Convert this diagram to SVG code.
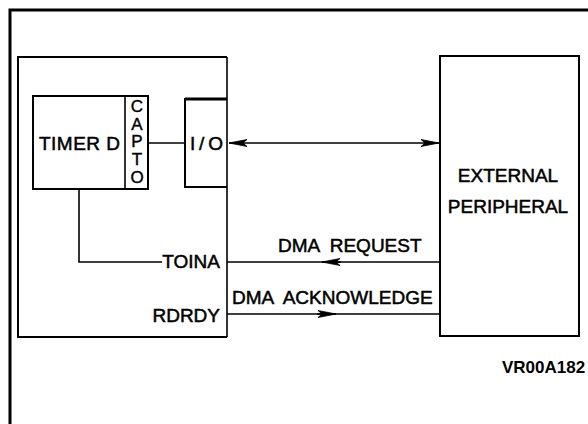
<svg xmlns="http://www.w3.org/2000/svg" width="588" height="424" viewBox="0 0 588 424">
<defs>
<style>
.box{fill:none;stroke:#000;stroke-width:2}
.ln{fill:none;stroke:#000;stroke-width:1.6}
.t{font-family:"Liberation Sans",Arial,sans-serif;font-size:19px;fill:#000;stroke:#000;stroke-width:0.5;white-space:pre}
.c{font-family:"Liberation Sans",Arial,sans-serif;font-size:17px;fill:#000;stroke:#000;stroke-width:0.4;writing-mode:vertical-rl;text-orientation:upright;letter-spacing:-1.3px}
.id{font-family:"Liberation Sans",Arial,sans-serif;font-size:17px;font-weight:bold;fill:#000}
</style>
<marker id="ah" viewBox="0 0 18 8" refX="18" refY="4" markerWidth="18" markerHeight="8" markerUnits="userSpaceOnUse" orient="auto-start-reverse">
<path d="M0,0.5 L18,4 L0,7.5 L4,4 Z" fill="#000" stroke="#000" stroke-width="0.8"/>
</marker>
</defs>
<rect width="588" height="424" fill="#fff"/>
<g id="frame"><path d="M10,424 V10 H588" fill="none" stroke="#000" stroke-width="3"/></g>
<g id="chip">
<path d="M227,57 H18 V337 H227" class="box" stroke-width="2.5"/>
<line x1="227" y1="57" x2="227" y2="337" class="ln"/>
</g>
<g id="timer">
<rect x="33" y="96" width="115" height="93" class="box"/>
<line x1="125" y1="96" x2="125" y2="189" class="ln"/>
<text x="39" y="150" class="t" textLength="81" lengthAdjust="spacing">TIMER D</text>
<text x="137" y="97" class="c">CAPTO</text>
</g>
<g id="io">
<path d="M227,99 H185 V187 H227" class="box"/>
<line x1="185" y1="99" x2="227" y2="99" stroke="#000" stroke-width="3"/>
<text x="190" y="150" class="t" textLength="33" lengthAdjust="spacing">I/O</text>
</g>
<g id="peripheral">
<rect x="440" y="56" width="139" height="280" class="box"/>
<text x="508" y="182" class="t" text-anchor="middle">EXTERNAL</text>
<text x="508" y="213" class="t" text-anchor="middle">PERIPHERAL</text>
</g>
<g id="connectors">
<line x1="148" y1="143" x2="185" y2="143" class="ln"/>
<line x1="229" y1="143" x2="439" y2="143" class="ln" marker-start="url(#ah)" marker-end="url(#ah)"/>
<polyline points="79,189 79,262 162,262" class="ln"/>
<line x1="227" y1="262" x2="440" y2="262" class="ln"/>
<line x1="341" y1="262" x2="322" y2="262" class="ln" marker-end="url(#ah)"/>
<line x1="227" y1="314" x2="440" y2="314" class="ln"/>
<line x1="317" y1="314" x2="336" y2="314" class="ln" marker-end="url(#ah)"/>
</g>
<g id="labels">
<text x="220" y="268" class="t" text-anchor="end">TOINA</text>
<text x="220" y="322" class="t" text-anchor="end">RDRDY</text>
<text x="278" y="252" class="t">DMA  REQUEST</text>
<text x="232" y="304" class="t">DMA  ACKNOWLEDGE</text>
<text x="502" y="373" class="id">VR00A182</text>
</g>
</svg>
